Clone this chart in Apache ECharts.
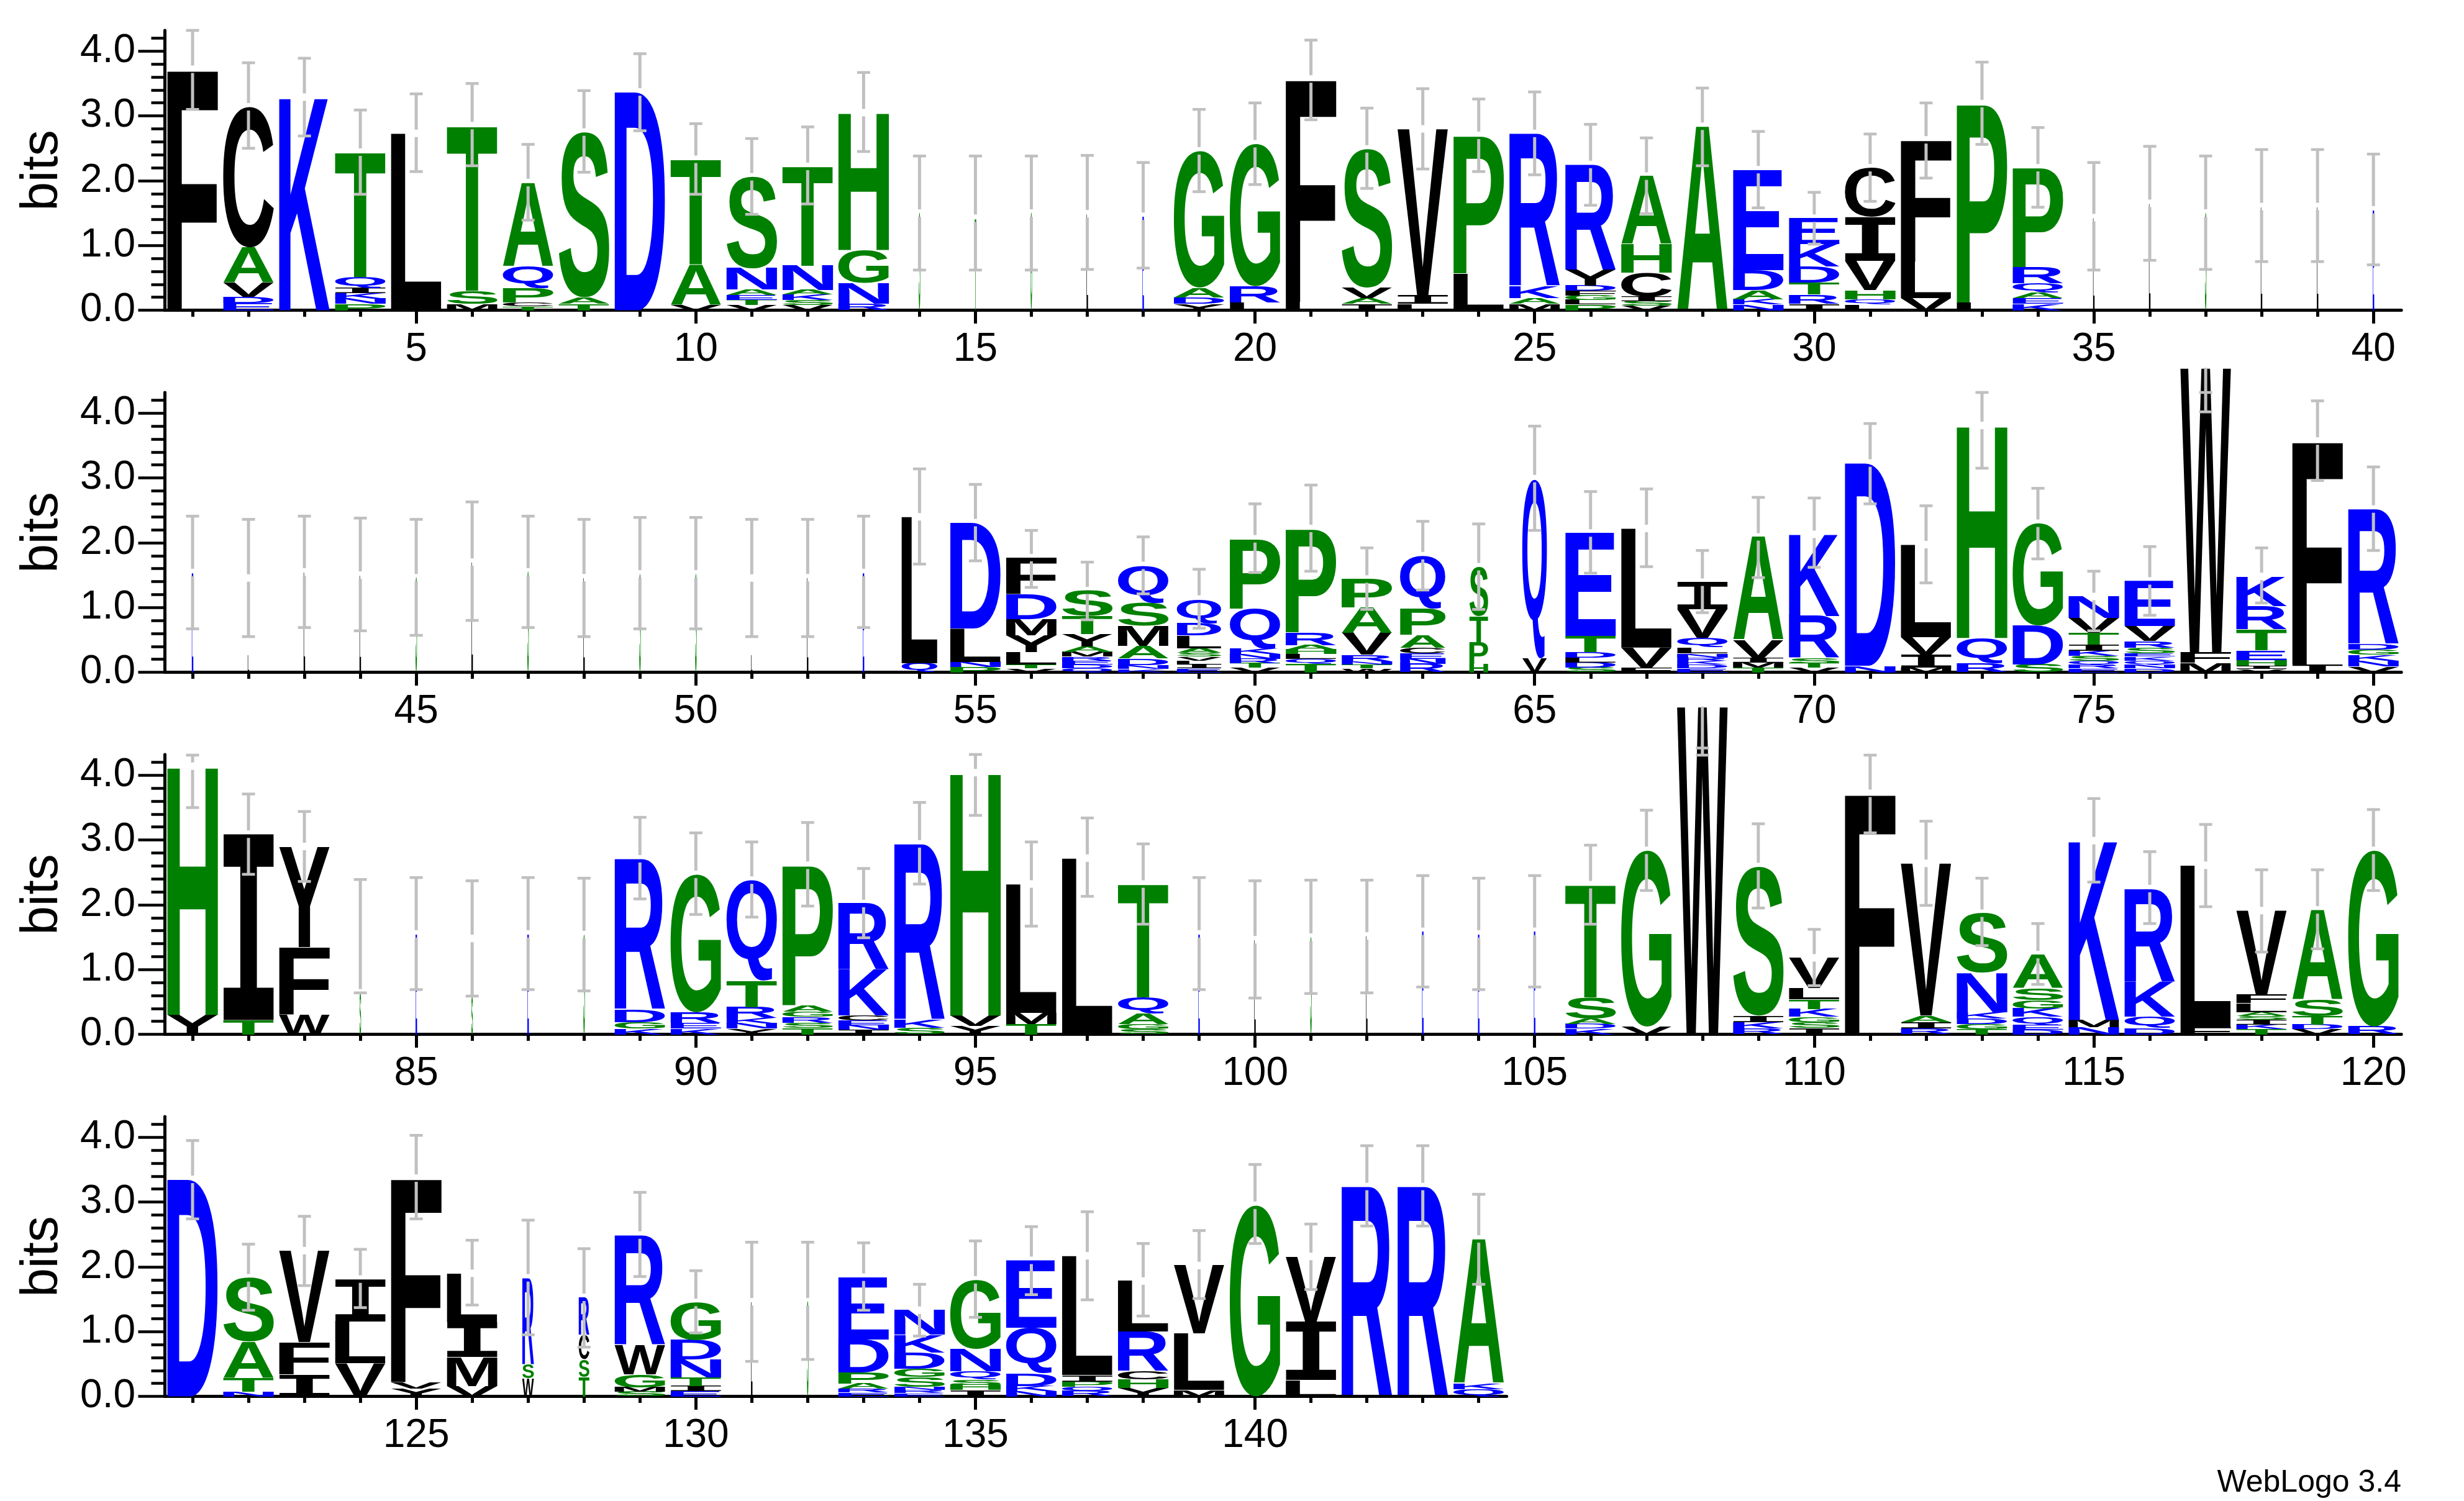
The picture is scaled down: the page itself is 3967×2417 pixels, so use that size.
<!DOCTYPE html>
<html><head><meta charset="utf-8">
<script src="https://cdn.jsdelivr.net/npm/echarts@6/dist/echarts.min.js"></script>
<style>html,body{margin:0;padding:0;background:#fff}#c{width:3967px;height:2417px}</style>
</head><body><div id="c"></div>
<script>
// ---------------- DATA (letters bottom-to-top, letter + height in bits) ----------------
const stacks1 = ["F3.72","E.11 D.10 V.22 A.54 C2.17","K3.29","P.10 N.08 K.08 I.08 Q.17 T1.93","L2.73",
"M.10 S.20 T2.55","T.06 C.06 P.22 Q.34 A1.29","T.10 A.10 S2.55","D3.37","V.09 A.62 T1.62",
"V.08 T.08 E.07 A.09 N.33 S1.41","V.08 S.08 K.08 A.07 N.38 T1.53","R.10 N.32 G.51 H2.12","S1.50","T1.42",
"G1.50","L1.49","E1.45","Y.10 D.10 A.15 G2.11","L.12 R.25 G2.20",
"L.13 F3.44","I.10 A.09 V.16 S2.14","L.10 I.13 V2.57","L.57 P2.13","M.10 A.09 K.18 R2.36",
"P.09 L.07 G.07 F.07 D.08 Y.24 R1.63","V.07 S.07 I.07 C.37 H.44 A1.05","A2.84","N.09 K.08 A.14 D.31 E1.55","I.10 R.14 T.19 D.25 K.34 E.40",
"L.09 Q.08 H.14 V.45 I.68 C.76","V.19 L.56 F1.88","L.12 P3.07","K.10 E.09 A.08 Q.15 R.25 P1.53","L1.43",
"L1.65","S1.50","L1.60","L1.60","E1.55"];
const stacks2 = ["E1.54","L.27","L1.55","L1.50","S1.46",
"L1.70","S1.55","L1.46","S1.52","S1.52",
"L.27","L1.46","E1.54","Q.14 L2.26","P.08 N.08 L.52 D1.63",
"V.06 T.06 L.19 Y.26 M.25 D.38 F.57","Q.06 D.06 E.06 R.06 M.07 A.09 Y.19 T.28 S.39","K.05 N.06 D.10 A.20 M.31 S.35 Q.58","E.06 I.06 L.06 V.06 S.06 A.07 L.20 D.19 Q.37","V.07 T.07 R.07 N.07 K.08 Q.62 P1.08",
"T.13 Q.08 L.07 H.07 A.07 R.20 P1.60","W.06 T.06 N.05 R.10 V.34 A.39 P.44","R.13 N.08 E.08 C.09 A.20 P.41 Q.81","H.13 P.33 T.41 S.76","V.22 Q2.77",
"S.07 D.08 L.08 D.08 T.25 E1.59","F.07 V.31 L1.84","E.06 D.06 K.06 R.05 N.06 L.09 Q.15 V.44 I.42","T.07 M.08 I.07 V.28 A1.59","V.07 T.07 S.08 R.65 K1.26",
"N.10 D3.13","M.07 I.20 V.27 L1.43","R.14 Q.39 H3.28","S.12 D.60 G1.58","E.06 R.06 Q.06 S.07 K.08 I.10 T.18 V.23 N.33",
"D.06 N.06 Q.06 K.06 E.05 S.09 R.10 V.23 E.70","M.15 F.16 W4.39","V.05 I.05 H.09 E.15 T.32 R.36 K.46","I.12 F3.45","V.09 N.09 K.09 G.08 D.08 R2.09"];
const stacks3 = ["Y.30 H3.84","T.22 I2.87","W.31 F1.04 Y1.55","S.64","E1.55",
"S.58","E1.55","S1.54","K.09 G.10 D.19 R2.33","K.09 E.09 R.16 G2.13",
"Y.09 N.08 K.08 R.17 T.41 Q1.55","T.10 S.08 R.09 G.08 A.10 P2.16","I.07 N.07 E.07 C.08 K.71 R1.02","S.10 K.12 R2.72","Y.13 V.16 H3.75",
"T.16 M.17 L1.99","L2.72","S.08 G.08 A.16 Q.25 T1.75","E1.55","L1.46",
"S1.50","L1.52","E1.59","E1.55","E1.59",
"K.09 D.07 A.08 S.33 T1.74","V.12 G2.72","W5.06","R.09 K.10 I.10 S2.30","I.10 S.09 G.08 K.12 T.15 L.17 V.47",
"F3.72","R.09 I.10 A.10 V2.35","T.08 G.08 D.08 K.10 N.61 S.92","D.07 E.07 Q.13 K.13 G.13 S.18 A.52","N.11 M.11 K2.77",
"D.10 Q.17 K.54 R1.44","F.11 L2.50","T.08 K.07 I.07 S.06 A.06 L.14 F.13 V1.30","V.08 D.07 T.13 S.25 A1.39","R.12 G2.72"];
const stacks4 = ["D3.35","N.07 T.21 A.56 S.99","I.34 F.50 V1.41","V.51 L.65 I.65","Y.12 V.10 F3.15",
"V.16 M.45 I.54 L.75","W.28 S.21 R1.34","T.30 S.27 C.38 R.58","S.07 M.07 G.20 W.45 R1.70","E.08 I.08 T.13 N.28 D.30 G.58",
"L1.46","S1.46","E.06 R.06 A.08 P.17 D.51 E.96","E.05 R.05 N.05 S.15 G.13 D.25 K.27 N.38","I.10 H.08 S.08 Q.13 N.35 G1.06",
"N.08 K.08 D.20 Q.70 E1.04","R.08 Q.07 P.08 I.10 L1.84","Y.13 H.13 C.13 R.61 L.78","M.10 L.87 V1.05","G2.95",
"L.25 I.90 V1.01","R3.24","R3.24","Q.11 K.09 A2.23"];

// column width (fraction of non-gap sequences)
const widths1 = [1,1,1,1,1,1,1,1,1,1,1,1,1,.03,.03,.03,.03,.03,1,1,1,1,1,1,1,1,1,1,1,1,1,1,1,1,.03,.03,.03,.03,.03,.03];
const widths2 = [.03,.03,.03,.03,.03,.03,.03,.03,.03,.03,.03,.03,.03,.71,1,1,1,1,.88,1,1,1,.9,.37,.49,1,1,1,1,1,1,1,1,1,1,1,1,1,1,1];
const widths3 = [1,1,1,.03,.03,.03,.03,.03,1,1,1,1,1,1,1,1,1,1,.03,.03,.03,.03,.03,.03,.03,1,1,1,1,1,1,1,1,1,1,1,1,1,1,1];
const widths4 = [1,1,1,1,1,1,.23,.21,1,1,.03,.03,1,1,1,1,1,1,1,1,1,1,1,1];

// error bars
const errLow1 = [3.10,2.50,2.69,1.79,2.14,2.23,1.39,2.13,2.77,1.79,1.48,1.64,2.45,0.62,0.62,0.62,0.63,0.65,1.83,1.94,2.94,1.88,2.18,2.14,2.09,1.62,1.49,2.23,1.58,1.02,1.68,2.04,2.56,1.59,0.62,0.77,0.63,0.75,0.75,0.70];
const errHigh1 = [4.32,3.82,3.89,3.09,3.34,3.50,2.56,3.39,3.96,2.88,2.65,2.83,3.67,2.38,2.38,2.38,2.39,2.28,3.10,3.20,4.17,3.12,3.42,3.26,3.37,2.87,2.66,3.43,2.76,1.82,2.72,3.20,3.83,2.82,2.28,2.53,2.38,2.48,2.48,2.41];
const errLow2 = [0.67,0.55,0.69,0.64,0.57,0.80,0.69,0.55,0.67,0.67,0.55,0.55,0.69,1.67,1.72,1.31,0.81,1.21,0.68,1.54,1.56,0.97,1.27,0.97,2.19,1.53,1.63,0.92,1.46,1.62,2.60,1.38,3.15,1.75,0.64,0.88,4.02,1.07,2.96,1.88];
const errHigh2 = [2.41,2.36,2.41,2.38,2.36,2.63,2.41,2.36,2.39,2.39,2.36,2.36,2.41,3.14,2.90,2.19,1.70,2.09,1.59,2.60,2.89,1.92,2.33,2.29,3.80,2.79,2.83,1.88,2.70,2.69,3.84,2.57,4.32,2.84,1.56,1.94,4.32,1.92,4.19,3.17];
const errLow3 = [3.50,2.47,2.36,0.64,0.69,0.59,0.69,0.67,2.09,1.85,1.81,1.98,1.49,2.32,3.38,1.67,2.13,1.70,0.69,0.56,0.63,0.64,0.73,0.69,0.73,1.70,2.22,4.31,1.95,0.75,3.11,1.99,1.37,0.77,2.35,1.71,1.97,1.27,1.32,2.22];
const errHigh3 = [4.31,3.71,3.44,2.39,2.42,2.37,2.42,2.41,3.35,3.11,2.97,3.27,2.56,3.58,4.32,2.97,3.34,2.94,2.42,2.37,2.38,2.38,2.45,2.41,2.45,2.92,3.46,4.42,3.25,1.62,4.31,3.29,2.41,1.71,3.64,2.82,3.24,2.54,2.54,3.47];
const errLow4 = [2.74,1.33,1.71,1.37,2.74,1.41,0.95,0.76,1.85,0.98,0.54,0.57,1.33,0.93,1.22,1.57,1.49,1.24,1.51,2.36,1.65,2.63,2.63,1.73];
const errHigh4 = [3.95,2.35,2.78,2.27,4.03,2.41,2.72,2.28,3.15,1.94,2.38,2.38,2.37,1.73,2.40,2.62,2.85,2.36,2.56,3.58,2.66,3.87,3.87,3.12];

// tick labels
const rowStarts = [1, 41, 81, 121];
const xTickLabels = [5,10,15,20,25,30,35,40,45,50,55,60,65,70,75,80,85,90,95,100,105,110,115,120,125,130,135,140];
const yTickLabels = [0,1,2,3,4];
const yMinorTicks = [0,0.2,0.4,0.6,0.8,1,1.2,1.4,1.6,1.8,2,2.2,2.4,2.6,2.8,3,3.2,3.4,3.6,3.8,4,4.2];
const yMax = 4.32;

// ---------------- LAYOUT ----------------
const LEFT = 265, UNIT = 90.03, ZERO0 = 499.5, ROW_STEP = 583, BIT = 104.3;
const PLOT_H = yMax * BIT;
const LETTER_FRAC = 0.905;
const LOGO_FONT = 'bold 200px "Liberation Sans"';
const SERIF_I_FONT = 'bold 200px "DejaVu Sans Mono"';
const COLORS = {};
'RKDENQ'.split('').forEach(c => COLORS[c] = '#0000ff');
'SGHTAP'.split('').forEach(c => COLORS[c] = '#008000');
'YVMCLFIW'.split('').forEach(c => COLORS[c] = '#000000');

const mctx = document.createElement('canvas').getContext('2d');
const gcache = {};
function glyph(ch) {
  if (gcache[ch]) return gcache[ch];
  const font = ch === 'I' ? SERIF_I_FONT : LOGO_FONT;
  mctx.font = font; mctx.textBaseline = 'middle'; mctx.textAlign = 'left';
  const m = mctx.measureText(ch);
  const g = {font, l: m.actualBoundingBoxLeft, r: m.actualBoundingBoxRight, a: m.actualBoundingBoxAscent, d: m.actualBoundingBoxDescent};
  gcache[ch] = g; return g;
}

const rows = [
  {stacks: stacks1, widths: widths1, lo: errLow1, hi: errHigh1},
  {stacks: stacks2, widths: widths2, lo: errLow2, hi: errHigh2},
  {stacks: stacks3, widths: widths3, lo: errLow3, hi: errHigh3},
  {stacks: stacks4, widths: widths4, lo: errLow4, hi: errHigh4}
];

const grid = [], xAxis = [], yAxis = [], series = [], graphic = [];
const axisFont = {fontFamily: 'Liberation Sans', fontSize: 64, color: '#000'};

rows.forEach((row, r) => {
  const start = rowStarts[r];
  const n = row.stacks.length;
  const zero = ZERO0 + r * ROW_STEP;
  const g = {left: LEFT, top: zero - PLOT_H, width: n * UNIT, height: PLOT_H};
  grid.push(Object.assign({}, g), Object.assign({}, g));
  const positions = row.stacks.map((s, i) => start + i);
  const labels = xTickLabels.filter(v => v >= start && v < start + n);
  const xmin = start - 0.5, xmax = start + n - 0.5;
  xAxis.push({gridIndex: 2*r, type: 'value', min: xmin, max: xmax,
    axisLine: {show: true, onZero: false, lineStyle: {color: '#000', width: 5}},
    axisTick: {show: true, customValues: positions, length: 10.5, lineStyle: {color: '#000', width: 5}},
    axisLabel: {show: false}, splitLine: {show: false}});
  xAxis.push({gridIndex: 2*r+1, type: 'value', min: xmin, max: xmax,
    axisLine: {show: false, onZero: false},
    axisTick: {show: true, customValues: labels, length: 21.5, lineStyle: {color: '#000', width: 5}},
    axisLabel: Object.assign({show: true, customValues: labels, margin: 32}, axisFont), splitLine: {show: false}});
  yAxis.push({gridIndex: 2*r, type: 'value', min: 0, max: yMax,
    axisLine: {show: true, onZero: false, lineStyle: {color: '#000', width: 5}},
    axisTick: {show: true, customValues: yMinorTicks, length: 21.5, lineStyle: {color: '#000', width: 4.5}},
    axisLabel: {show: false}, splitLine: {show: false}});
  yAxis.push({gridIndex: 2*r+1, type: 'value', min: 0, max: yMax,
    axisLine: {show: false, onZero: false},
    axisTick: {show: true, customValues: yTickLabels, length: 42.5, lineStyle: {color: '#000', width: 4.5}},
    axisLabel: Object.assign({show: true, customValues: yTickLabels, margin: 47, formatter: v => Number(v).toFixed(1)}, axisFont),
    splitLine: {show: false}});

  // letters
  const recs = [], tops = [];
  row.stacks.forEach((s, i) => {
    const pos = start + i;
    let y = 0;
    s.split(' ').forEach(tok => {
      const ch = tok[0], h = parseFloat(tok.slice(1));
      recs.push({ch, w: row.widths[i], v: [pos, y, y + h]});
      y += h;
    });
    tops.push(y);
  });
  series.push({
    type: 'custom', xAxisIndex: 2*r, yAxisIndex: 2*r, clip: false, silent: true, z: 3,
    data: recs.map(o => o.v),
    renderItem: function (params, api) {
      const o = recs[params.dataIndex];
      const pos = api.value(0), y0 = api.value(1), y1 = api.value(2);
      const half = LETTER_FRAC * o.w / 2;
      const pA = api.coord([pos - half, y1]);
      const pB = api.coord([pos + half, y0]);
      const bw = pB[0] - pA[0], bh = pB[1] - pA[1];
      if (bw <= 0 || bh <= 0.05) return null;
      const gl = glyph(o.ch);
      const sx = bw / (gl.l + gl.r), sy = bh / (gl.a + gl.d);
      return {type: 'text', x: pA[0] + sx * gl.l, y: pA[1] + sy * gl.a, scaleX: sx, scaleY: sy, silent: true,
        style: {text: o.ch, font: gl.font, fill: COLORS[o.ch], align: 'left', verticalAlign: 'middle'}};
    }
  });

  // error bars
  series.push({
    type: 'custom', xAxisIndex: 2*r, yAxisIndex: 2*r, clip: false, silent: true, z: 4,
    data: positions.map((p, i) => [p, row.lo[i], row.hi[i], tops[i]]),
    renderItem: function (params, api) {
      const pos = api.value(0), lo = api.value(1), hi = api.value(2), top = api.value(3);
      const x = api.coord([pos, 0])[0];
      const yLo = api.coord([pos, lo])[1], yHi = api.coord([pos, hi])[1], yTop = api.coord([pos, top])[1];
      const col = '#c0c0c0', LW = 5, CW = 21, CH = 4.5, GAP = 6;
      const ch = [];
      const seg = (a, b) => { if (b - a > 0.5) ch.push({type: 'rect', shape: {x: x - LW/2, y: a, width: LW, height: b - a}, style: {fill: col}}); };
      if (top > hi) {
        seg(yTop, yLo);
      } else {
        const c = top >= lo ? yTop : (yLo + yHi) / 2;
        seg(yHi, c - GAP); seg(c + GAP, yLo);
      }
      ch.push({type: 'rect', shape: {x: x - CW/2, y: yHi - CH/2, width: CW, height: CH}, style: {fill: col}});
      ch.push({type: 'rect', shape: {x: x - CW/2, y: yLo - CH/2, width: CW, height: CH}, style: {fill: col}});
      return {type: 'group', children: ch};
    }
  });

  graphic.push({type: 'text', x: 69, y: zero - 225, rotation: Math.PI / 2, silent: true,
    style: {text: 'bits', font: '84px "Liberation Sans"', fill: '#000', align: 'center', verticalAlign: 'middle'}});
});

graphic.push({type: 'text', x: 3866, y: 2388, silent: true,
  style: {text: 'WebLogo 3.4', font: '50px "Liberation Sans"', fill: '#000', align: 'right', verticalAlign: 'middle'}});

const chart = echarts.init(document.getElementById('c'), null, {renderer: 'canvas', width: 3967, height: 2417});
chart.setOption({
  animation: false,
  backgroundColor: '#ffffff',
  grid, xAxis, yAxis, series, graphic
});
</script>
</body></html>
